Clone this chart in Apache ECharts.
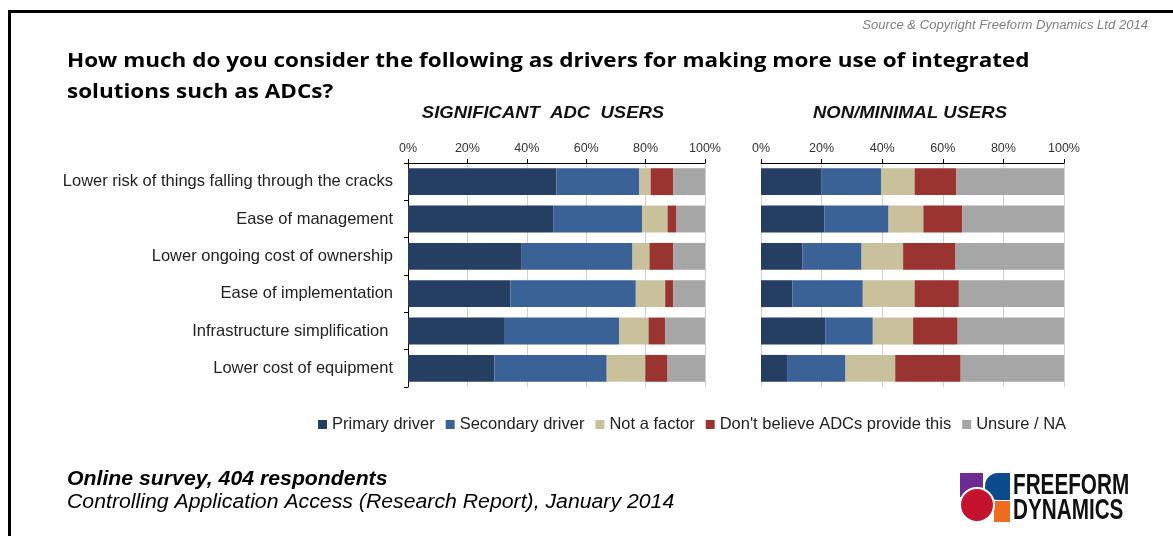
<!DOCTYPE html>
<html>
<head>
<meta charset="utf-8">
<script src="https://cdn.jsdelivr.net/npm/echarts@6/dist/echarts.min.js"></script>
<style>
html,body{margin:0;padding:0;background:#fff;}
#chart{width:1173px;height:536px;}
</style>
</head>
<body>
<div id="chart"></div>
<script>
var categories = [
  'Lower risk of things falling through the cracks',
  'Ease of management',
  'Lower ongoing cost of ownership',
  'Ease of implementation',
  'Infrastructure simplification ',
  'Lower cost of equipment'
];
var seriesNames = ['Primary driver', 'Secondary driver', 'Not a factor', "Don't believe ADCs provide this", 'Unsure / NA'];
var seriesColors = ['#253f63', '#3a6297', '#c9c09c', '#993431', '#a6a6a6'];

// SIGNIFICANT ADC USERS (%)
var primaryL   = [50.0, 48.9, 38.3, 34.5, 32.6, 29.1];
var secondaryL = [27.9, 29.9, 37.3, 42.2, 38.5, 37.8];
var notFactorL = [3.8, 8.6, 5.7, 9.9, 9.9, 13.0];
var dontBelL   = [7.6, 3.0, 8.0, 2.7, 5.6, 7.5];
var unsureL    = [10.7, 9.6, 10.7, 10.7, 13.4, 12.6];

// NON/MINIMAL USERS (%)
var primaryR   = [20.0, 20.9, 13.7, 10.4, 21.2, 8.6];
var secondaryR = [19.6, 21.2, 19.5, 23.2, 15.7, 19.3];
var notFactorR = [11.1, 11.5, 13.7, 17.1, 13.3, 16.4];
var dontBelR   = [13.8, 12.8, 17.3, 14.6, 14.7, 21.6];
var unsureR    = [35.5, 33.6, 35.8, 34.7, 35.1, 34.1];

var panelTitles = ['SIGNIFICANT  ADC  USERS', 'NON/MINIMAL USERS'];
var titleLines = ['How much do you consider the following as drivers for making more use of integrated', 'solutions such as ADCs?'];
var sourceText = 'Source & Copyright Freeform Dynamics Ltd 2014';
var footer1 = 'Online survey, 404 respondents';
var footer2 = 'Controlling Application Access (Research Report), January 2014';

var leftData = [primaryL, secondaryL, notFactorL, dontBelL, unsureL];
var rightData = [primaryR, secondaryR, notFactorR, dontBelR, unsureR];

var chart = echarts.init(document.getElementById('chart'));
var FONT = 'Liberation Sans, Arial, sans-serif';

function xAx(gi) {
  return {
    gridIndex: gi, type: 'value', position: 'top', min: 0, max: 100, interval: 20,
    axisLabel: { formatter: '{value}%', fontFamily: FONT, fontSize: 12.5, color: '#333', margin: 8 },
    axisLine: { show: true, lineStyle: { color: '#000', width: 1 } },
    axisTick: { show: true, length: 4, lineStyle: { color: '#000' } },
    splitLine: { show: true, lineStyle: { color: '#d0d0d0', width: 1 } }
  };
}

var series = [];
seriesNames.forEach(function (n, i) {
  series.push({ name: n, type: 'bar', stack: 'L', xAxisIndex: 0, yAxisIndex: 0, data: leftData[i],
    barCategoryGap: '28%', itemStyle: { color: seriesColors[i] } });
});
seriesNames.forEach(function (n, i) {
  series.push({ name: n, type: 'bar', stack: 'R', xAxisIndex: 1, yAxisIndex: 1, data: rightData[i],
    barCategoryGap: '28%', itemStyle: { color: seriesColors[i] } });
});

var option = {
  backgroundColor: '#fff',
  animation: false,
  color: seriesColors,
  grid: [
    { left: 408, top: 163, width: 297, height: 224 },
    { left: 761, top: 163, width: 303, height: 224 }
  ],
  xAxis: [xAx(0), xAx(1)],
  yAxis: [
    { gridIndex: 0, type: 'category', inverse: true, data: categories,
      axisLabel: { fontFamily: FONT, fontSize: 16.5, color: '#222', margin: 15 },
      axisLine: { show: true, lineStyle: { color: '#000' } },
      axisTick: { show: true, length: 4, lineStyle: { color: '#000' } } },
    { gridIndex: 1, type: 'category', inverse: true, data: categories,
      axisLabel: { show: false }, axisLine: { show: false }, axisTick: { show: false } }
  ],
  legend: {
    data: seriesNames, left: 313, top: 411, icon: 'rect', itemWidth: 9, itemHeight: 9, itemGap: 11,
    textStyle: { fontFamily: FONT, fontSize: 16.5, color: '#222' }
  },
  series: series,
  graphic: [
    { type: 'rect', shape: { x: 8, y: 10, width: 3, height: 530 }, style: { fill: '#000' } },
    { type: 'rect', shape: { x: 8, y: 10, width: 1170, height: 3 }, style: { fill: '#000' } },
    { type: 'text', x: 1148, y: 20, scaleX: 1.09, style: { text: sourceText, align: 'right', fill: '#7f7f7f',
      font: 'italic 12px ' + FONT } },
    { type: 'text', x: 67, y: 51, scaleX: 1.124, style: { text: titleLines[0], fill: '#000', font: 'bold 20px "Open Sans", sans-serif' } },
    { type: 'text', x: 67, y: 82, scaleX: 1.124, style: { text: titleLines[1], fill: '#000', font: 'bold 20px "Open Sans", sans-serif' } },
    { type: 'text', x: 543, y: 105, scaleX: 1.12, style: { text: panelTitles[0], align: 'center', fill: '#111', font: 'italic bold 16.5px ' + FONT } },
    { type: 'text', x: 910, y: 105, scaleX: 1.12, style: { text: panelTitles[1], align: 'center', fill: '#111', font: 'italic bold 16.5px ' + FONT } },
    { type: 'text', x: 67, y: 470, scaleX: 1.09, style: { text: footer1, fill: '#000', font: 'italic bold 19.5px ' + FONT } },
    { type: 'text', x: 67, y: 493, scaleX: 1.09, style: { text: footer2, fill: '#000', font: 'italic 19.5px ' + FONT } },
    // logo mark
    { type: 'rect', shape: { x: 960, y: 473, width: 23, height: 24 }, style: { fill: '#6d2c91' } },
    { type: 'rect', shape: { x: 994, y: 501, width: 16, height: 21 }, style: { fill: '#ef6b1f' } },
    { type: 'rect', shape: { x: 985, y: 473, width: 25, height: 27, r: [13, 0, 0, 13] }, style: { fill: '#0b4a8b' } },
    { type: 'circle', shape: { cx: 977, cy: 505, r: 17 }, style: { fill: '#c4122f', stroke: '#fff', lineWidth: 2 } },
    { type: 'text', x: 1013, y: 471, scaleX: 0.69,
      style: { text: 'FREEFORM', fill: '#111', font: 'bold 30px ' + FONT } },
    { type: 'text', x: 1013, y: 496, scaleX: 0.69,
      style: { text: 'DYNAMICS', fill: '#111', font: 'bold 30px ' + FONT } }
  ]
};
chart.setOption(option);
</script>
</body>
</html>
